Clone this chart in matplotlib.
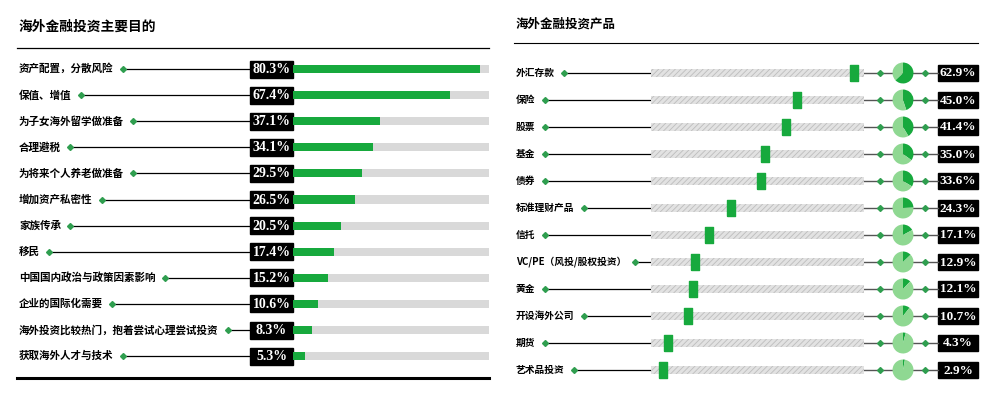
import matplotlib.pyplot as plt
import numpy as np

plt.rcParams["font.family"] = ["Noto Sans CJK SC", "DejaVu Sans"]

# data
left_title = "海外金融投资主要目的"
left_categories = [
    "资产配置，分散风险",
    "保值、增值",
    "为子女海外留学做准备",
    "合理避税",
    "为将来个人养老做准备",
    "增加资产私密性",
    "家族传承",
    "移民",
    "中国国内政治与政策因素影响",
    "企业的国际化需要",
    "海外投资比较热门，抱着尝试心理尝试投资",
    "获取海外人才与技术",
]
left_values = [80.3, 67.4, 37.1, 34.1, 29.5, 26.5, 20.5, 17.4, 15.2, 10.6, 8.3, 5.3]

right_title = "海外金融投资产品"
right_categories = [
    "外汇存款",
    "保险",
    "股票",
    "基金",
    "债券",
    "标准理财产品",
    "信托",
    "VC/PE（风投/股权投资）",
    "黄金",
    "开设海外公司",
    "期货",
    "艺术品投资",
]
right_values = [62.9, 45.0, 41.4, 35.0, 33.6, 24.3, 17.1, 12.9, 12.1, 10.7, 4.3, 2.9]

GREEN = "#17a93d"
LIGHT_GREEN = "#8fd892"
DIAMOND = "#2f9e4f"
W, H = 994, 399

fig = plt.figure(figsize=(W / 100, H / 100), dpi=100)
ax = fig.add_axes([0, 0, 1, 1])
ax.set_xlim(0, W)
ax.set_ylim(H, 0)
ax.axis("off")
renderer = fig.canvas.get_renderer()


def px_axes(x0, y0, x1, y1):
    return fig.add_axes([x0 / W, 1 - y1 / H, (x1 - x0) / W, (y1 - y0) / H])


def text_end(t):
    bb = t.get_window_extent(renderer)
    return ax.transData.inverted().transform((bb.x1, bb.y0))[0]


# ---- left panel ----
ax.text(19, 27, left_title, fontsize=9.9, fontweight="bold", va="center")
ax.plot([17, 489], [48, 48], color="black", lw=0.9)
ax.plot([17, 489], [378, 378], color="black", lw=2.2)

l_top, l_step = 69, 26.1
n = len(left_categories)
for i, (cat, val) in enumerate(zip(left_categories, left_values)):
    y = l_top + i * l_step
    t = ax.text(19, y, cat, fontsize=7.6, fontweight="bold", va="center")
    xe = text_end(t) + 9
    ax.plot([xe, 250], [y, y], color="black", lw=0.9)
    ax.plot(xe, y, marker="D", ms=3, color=DIAMOND)
    ax.add_patch(plt.Rectangle((250, y - 8.5), 43, 17, color="black"))
    ax.text(271.5, y + 0.5, f"{val}%", color="white", fontsize=10,
            fontweight="bold", family="Liberation Serif", ha="center", va="center")

lax = px_axes(293, l_top - l_step / 2, 489, l_top + (n - 0.5) * l_step)
rows = np.arange(n)
lax.barh(rows, [84] * n, height=0.31, color="#d9d9d9")
lax.barh(rows, left_values, height=0.31, color=GREEN)
lax.set_xlim(0, 84)
lax.set_ylim(n - 0.5, -0.5)
lax.axis("off")

# ---- right panel ----
ax.text(516, 24, right_title, fontsize=9, fontweight="bold", va="center")
ax.plot([514, 978], [43, 43], color="black", lw=0.8)

r_top, r_step = 73, 27
m = len(right_categories)
for i, (cat, val) in enumerate(zip(right_categories, right_values)):
    y = r_top + i * r_step
    t = ax.text(516, y, cat, fontsize=7, fontweight="bold", va="center")
    xe = text_end(t) + 9
    ax.plot([xe, 651], [y, y], color="black", lw=0.9)
    ax.plot(xe, y, marker="D", ms=3, color=DIAMOND)
    ax.plot([864, 938], [y, y], color="#555555", lw=1)
    ax.plot([880, 925], [y, y], "D", ms=3, color=DIAMOND)
    ax.add_patch(plt.Rectangle((938, y - 8), 40, 16, color="black"))
    ax.text(958, y + 0.5, f"{val:.1f}%", color="white", fontsize=9.5,
            fontweight="bold", family="Liberation Serif", ha="center", va="center")
    pax = px_axes(892, y - 11, 914, y + 11)
    pax.pie([val, 100 - val], colors=[GREEN, LIGHT_GREEN], startangle=90,
            counterclock=False, wedgeprops={"linewidth": 0})
    pax.set_xlim(-1.05, 1.05)
    pax.set_ylim(-1.05, 1.05)
    pax.axis("off")

plt.rcParams["hatch.linewidth"] = 0.6
rax = px_axes(651, r_top - r_step / 2, 864, r_top + (m - 0.5) * r_step)
rrows = np.arange(m)
rax.barh(rrows, [67] * m, left=-1, height=0.27, color="#e2e2e2",
         edgecolor="#bdbdbd", linewidth=0, hatch="//////")
marker_shape = [(-9, -16), (9, -16), (9, 16), (-9, 16), (-9, -16)]
rax.plot(right_values, rrows, linestyle="none", marker=marker_shape,
         ms=11.5, color=GREEN, clip_on=False)
rax.set_xlim(-1, 66)
rax.set_ylim(m - 0.5, -0.5)
rax.axis("off")

fig.savefig("out.png", dpi=100)
